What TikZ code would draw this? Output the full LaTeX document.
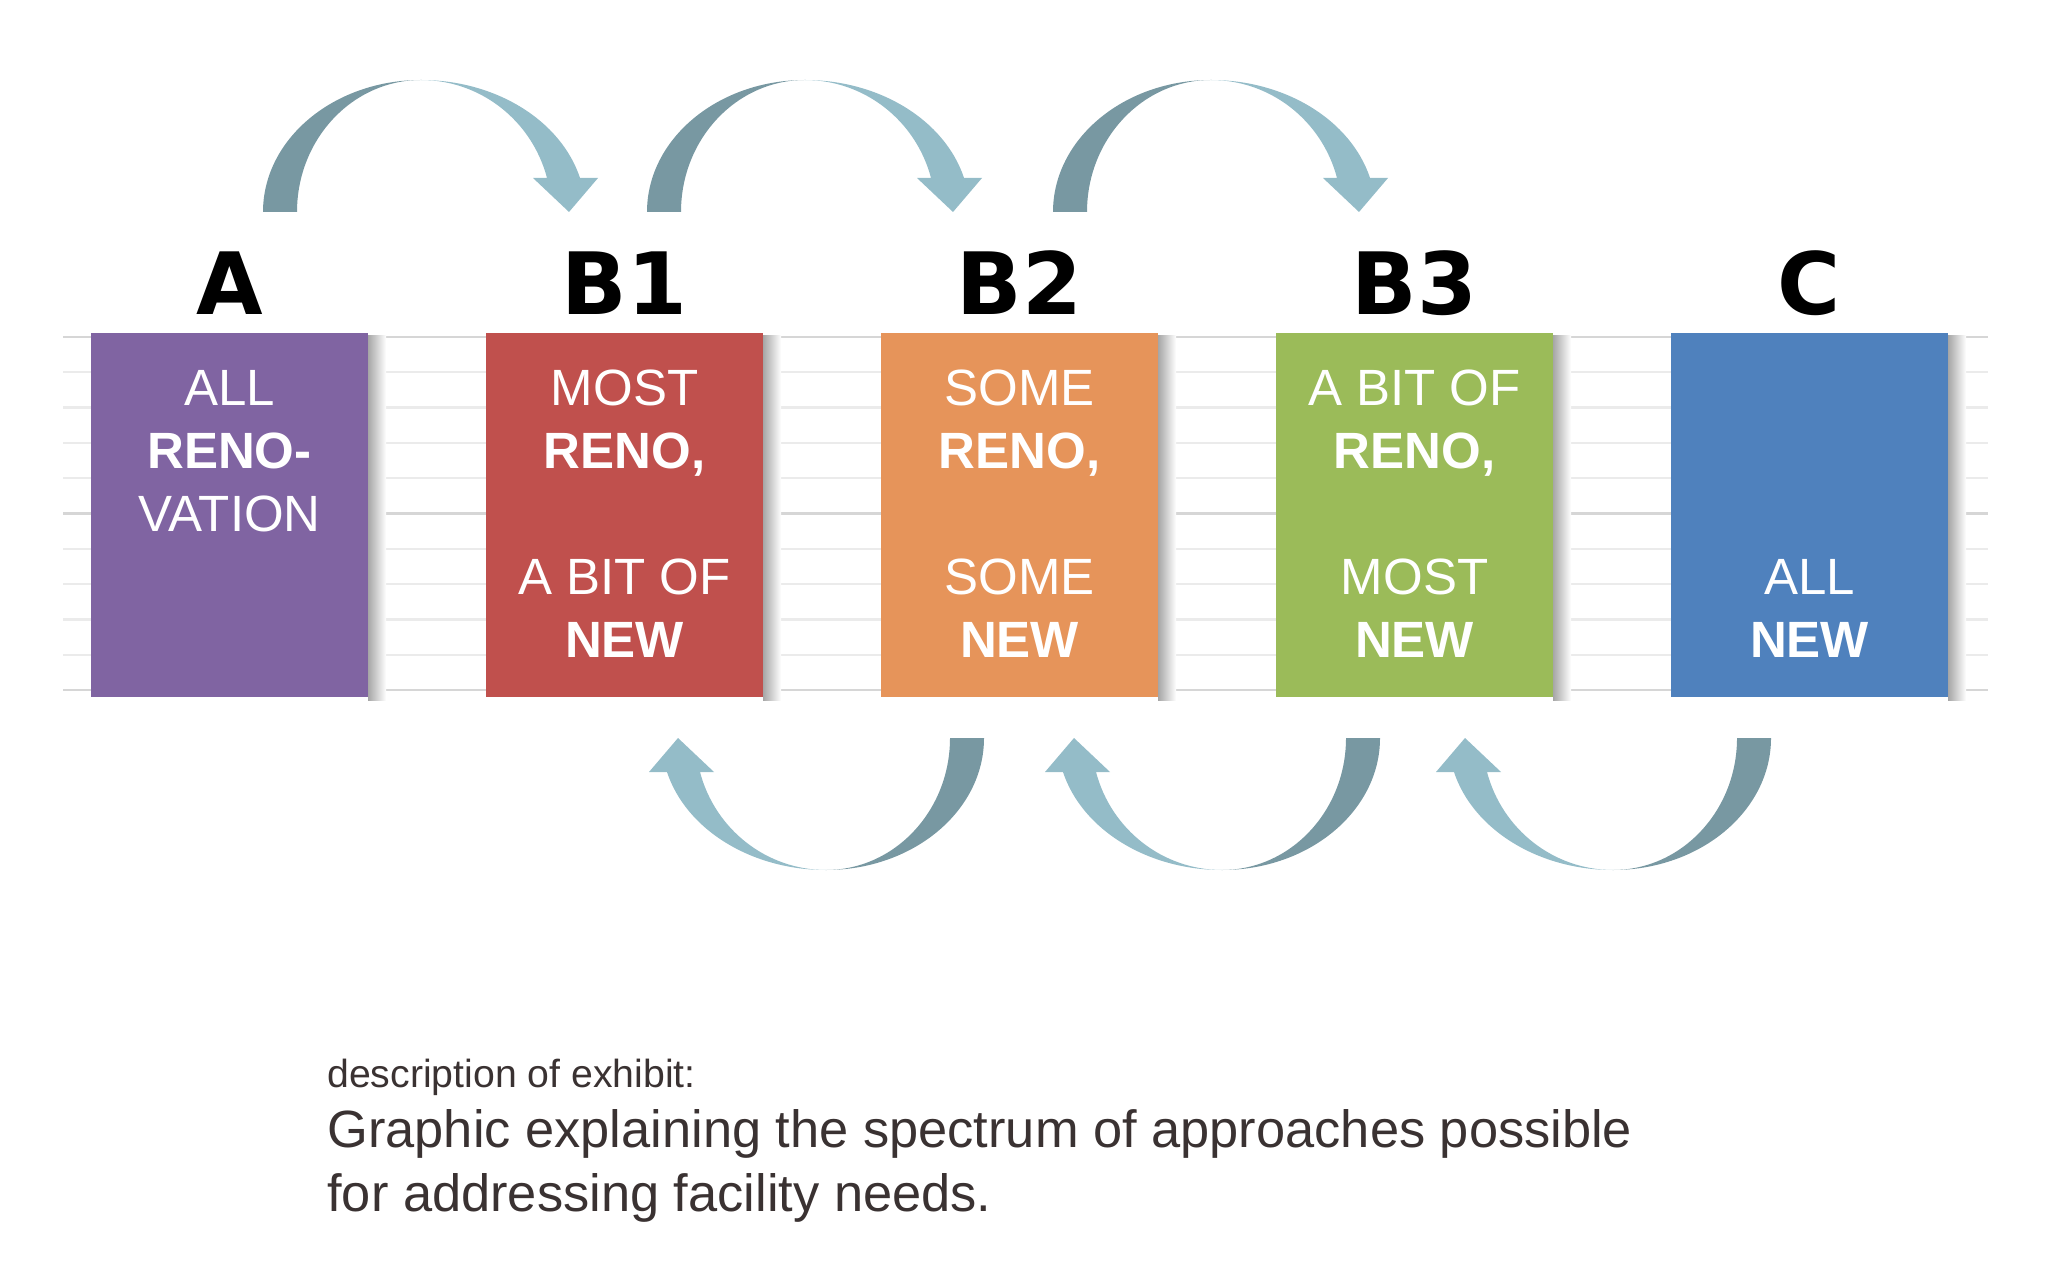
\documentclass[tikz,border=0pt]{standalone}
\usepackage{fontspec}
\setmainfont{Liberation Sans}
\newfontfamily\tagfont{DejaVu Sans}
\usepackage{tikz}
\usetikzlibrary{positioning,calc}
\definecolor{allreno}{HTML}{8064A2}
\definecolor{mostreno}{HTML}{C0504D}
\definecolor{somereno}{HTML}{E6945A}
\definecolor{bitreno}{HTML}{9BBB59}
\definecolor{allnew}{HTML}{4F81BD}
\definecolor{ribdark}{HTML}{7898A2}
\definecolor{riblight}{HTML}{94BCC8}
\definecolor{rule}{HTML}{EBEBEB}
\definecolor{ink}{HTML}{3A3232}
\tikzset{
  stage/.style={minimum width=138.5pt,minimum height=182pt,inner sep=0pt,outer sep=0pt,
    align=center,text=white,font=\fontsize{25.5}{31.5}\selectfont},
  tag/.style={inner sep=0pt,text depth=0pt,font=\tagfont\bfseries\fontsize{43}{43}\selectfont},
  gridline/.style={draw=rule,line width=1.2pt},
  majorline/.style={draw=black!16,line width=1.2pt},
  caption/.style={inner sep=0pt,text=ink,align=left}
}
\newcommand{\rowstrut}{\rule[-7.5pt]{0pt}{31.5pt}}
% twisted ribbon arrow, tail corner at the origin
\newcommand{\ribbon}{%
  \fill[ribdark] (0,0) arc[start angle=180,end angle=90,x radius=79pt,y radius=66pt]
    arc[start angle=90,end angle=180,x radius=62pt,y radius=66pt] -- cycle;
  \fill[riblight] (158,132) arc[start angle=90,end angle=14.93,x radius=82.3pt,y radius=66pt]
    -- (335,34) -- (306,0) -- (270,34) -- (284,34)
    arc[start angle=14.93,end angle=90,x radius=65.2pt,y radius=66pt] -- cycle;
}

\begin{document}
\begin{tikzpicture}[x=0.5pt,y=0.5pt,node distance=59pt]
 \useasboundingbox (0,0) rectangle (2048,1260);
 % background rules
 \foreach \i in {0,...,10}
   \draw[gridline] (63,{923-35.3*\i}) -- (1988,{923-35.3*\i});
 \foreach \i in {0,5,10}
   \draw[majorline] (63,{923-35.3*\i}) -- (1988,{923-35.3*\i});
 % the five stages
 \node[stage,fill=allreno] (A) at (229.5,745)
   {\rowstrut ALL\\\rowstrut\textbf{RENO-}\\\rowstrut VATION\\\rowstrut\\\rowstrut};
 \node[stage,fill=mostreno,right=of A] (B1)
   {\rowstrut MOST\\\rowstrut\textbf{RENO,}\\\rowstrut\\\rowstrut A BIT OF\\\rowstrut\textbf{NEW}};
 \node[stage,fill=somereno,right=of B1] (B2)
   {\rowstrut SOME\\\rowstrut\textbf{RENO,}\\\rowstrut\\\rowstrut SOME\\\rowstrut\textbf{NEW}};
 \node[stage,fill=bitreno,right=of B2] (B3)
   {\rowstrut A BIT OF\\\rowstrut\textbf{RENO,}\\\rowstrut\\\rowstrut MOST\\\rowstrut\textbf{NEW}};
 \node[stage,fill=allnew,right=of B3] (C)
   {\rowstrut\\\rowstrut\\\rowstrut\\\rowstrut ALL\\\rowstrut\textbf{NEW}};
 \foreach \n in {A,B1,B2,B3,C}{
   \shade[left color=black!35,right color=white]
     ($(\n.north east)+(0,-3)$) rectangle ($(\n.south east)+(18,-3)$);
   \node[tag,above=9pt of \n] (t\n) {\n};
 }
 % forward arrows over the top
 \foreach \s/\d in {A/33.5,B1/22.5,B2/33.5}{
   \begin{scope}[shift={($(\s.north)+(\d,121)$)}] \ribbon \end{scope}
 }
 % backward arrows underneath
 \foreach \s/\d in {B2/-35.5,B3/-34.5,C/-38.5}{
   \begin{scope}[shift={($(\s.south)+(\d,-41)$)},rotate=180] \ribbon \end{scope}
 }
 \node[caption,anchor=base west,font=\fontsize{19.6}{24}\selectfont] (cap) at (327,173)
   {description of exhibit:};
 \node[caption,anchor=north west,font=\fontsize{26.2}{32}\selectfont] (desc) at (327,151)
   {Graphic explaining the spectrum of approaches possible\\for addressing facility needs.};
\end{tikzpicture}
\end{document}
